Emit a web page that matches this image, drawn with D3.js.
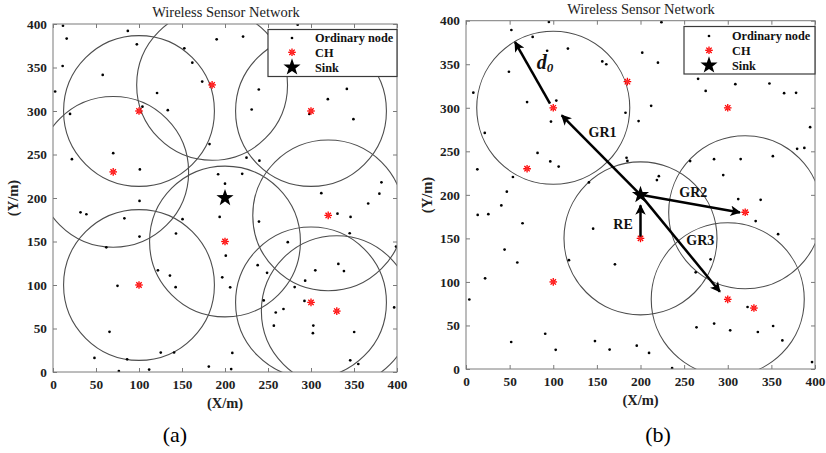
<!DOCTYPE html>
<html><head><meta charset="utf-8">
<script src="https://cdn.jsdelivr.net/npm/d3@7"></script>
<style>body{margin:0;background:#fff} svg{display:block} text{font-family:"Liberation Serif","Times New Roman",serif}</style>
</head><body><svg id="c" width="826" height="453"></svg>
<script>
// ---------- data ----------
const ticks = [0, 50, 100, 150, 200, 250, 300, 350, 400];
const titleText = "Wireless Sensor Network";
const legendLabels = ["Ordinary node", "CH", "Sink"];
const chX = [100, 185, 70, 300, 320, 200, 300, 330, 100];
const chY = [300, 330, 230, 300, 180, 150, 80, 70, 100];
const sinkXY = [200, 200];
const radiusD0 = 87.7;
const circlesA = [0, 1, 2, 3, 4, 5, 6, 7, 8];
const circlesB = [0, 5, 4, 6];

const nodesAX = [11.6,15.9,87,97.5,11.2,57.8,2.5,19.8,104,121,133.5,152.7,162,173.5,190.3,221,284.5,70,22,101,182,225,240,239.3,231,298,319.6,341.7,349.3,192,200,220,100.6,32,38.8,83,150.6,193.8,239.5,312,381.9,379.5,366.5,330.8,346,345,143,100.6,62,200.9,273,122,136,142.6,75,196.8,206,238,248.9,281,293.2,305,331.8,338.3,245,259,268,292.4,256.8,302.7,302.2,350.2,396.7,398.9,65.7,48.2,86.2,125.3,140.8,76.6,111.8,181.2,207.2,208.5,345.6,355];
const nodesAY = [398,383.3,392,376.6,351.7,341.5,322.4,296.6,305,320.7,300.9,372,355.5,333.8,382.4,385.6,399.2,251.5,244.6,232.8,262,246.4,242.9,324.7,301.7,296.6,313.6,325.4,290.6,227.3,216.5,227.8,196.6,183.5,181.3,176.6,175.7,178.2,172.9,205.5,218,205,193.7,182,178.2,159.5,159.2,155.7,143.3,133.7,149.2,116.9,110.8,97.5,99,108.8,97.3,122.8,114,97.6,105,116.9,124.2,116,82.3,68.4,72.4,81.7,53.3,53.4,44.6,46,74.2,144.2,46.2,16.2,14.6,22.3,22.4,1.1,2.8,6.2,3.4,21.9,13.4,9.2];

const nodesBX = [52,95,76.4,93,116.8,224,202,220,156.2,160.8,49.2,8.4,70,103.5,97.4,182.8,197.8,212.2,21.5,82,96.6,106.2,13,53.8,46.8,40.5,13.4,25.6,64.8,44.2,58.8,21.9,3.8,140.9,184,185,218.8,221,145.7,118,170.7,256.9,284.3,314.8,351.7,379.5,387.8,294.8,312,337.7,332,357.7,394.4,266,274.7,308.7,347.8,364.6,378.3,280.3,263.3,264.2,284.4,302.8,322.7,334.5,352,362.6,396.6,51.8,90.8,102.8,147.8,164.6,195.7,209.8,236.2];
const nodesBY = [389.3,398.5,381.4,365.5,368,398.3,363.3,351.8,353.2,350,341.4,317.3,306.5,308.3,284.2,294.3,284.7,302.2,271.1,248.2,238.4,232.5,229.3,220.5,203.6,187.8,176.9,177.8,167.4,137.2,122.3,104.1,79.8,214.3,242.6,239,217,221.5,161.2,125,120.2,238.8,241,241.1,244.4,252.9,253.9,222.7,195.2,194.3,169.9,154.8,277.7,333.2,319.3,327.1,327.9,316.8,317.2,126,111,47.9,52.2,44.4,71.2,42.5,49.4,32.8,7.9,31,40.5,22,32.1,22.3,26.8,18.5,1];

const arrowFromX = [200, 200, 200, 200, 96.3];
const arrowFromY = [200, 200, 200, 152, 304.8];
const arrowToX = [109.7, 314, 291, 200, 56.2];
const arrowToY = [291.4, 179.8, 88.7, 188, 375.5];
const arrowLabels = ["GR1", "GR2", "GR3", "RE"];
const arrowLabelX = [156.5, 260.5, 268.5, 180];
const arrowLabelY = [267, 197.7, 142, 161];
const d0LabelXY = [81, 344];

// ---------- drawing ----------
const svg = d3.select("#c");
const axisColor = "#7a7a7a";
const defs = svg.append("defs");
defs.append("marker").attr("id", "ah").attr("viewBox", "0 0 10 10")
  .attr("refX", 9).attr("refY", 5).attr("markerWidth", 4.6).attr("markerHeight", 4.2)
  .attr("markerUnits", "strokeWidth").attr("orient", "auto")
  .append("path").attr("d", "M0,0 L10,5 L0,10 L2.5,5 Z").attr("fill", "#000");

function starPath(r) {
  const pts = [];
  for (let i = 0; i < 10; i++) {
    const rr = i % 2 === 0 ? r : r * 0.4;
    const a = -Math.PI / 2 + i * Math.PI / 5;
    pts.push([rr * Math.cos(a), rr * Math.sin(a)]);
  }
  return "M" + pts.map(p => p.join(",")).join("L") + "Z";
}
function asterisk(g, cx, cy) {
  const r = 3.8;
  const s = g.append("g").attr("transform", `translate(${cx},${cy})`);
  [0, 45, 90, 135].forEach(a => {
    const t = a * Math.PI / 180;
    s.append("line").attr("x1", -r * Math.cos(t)).attr("y1", -r * Math.sin(t))
      .attr("x2", r * Math.cos(t)).attr("y2", r * Math.sin(t))
      .attr("stroke", "#ff0000").attr("stroke-width", 1.3);
  });
  s.append("circle").attr("r", 1.8).attr("fill", "#ff2a2a");
}

function panel(cfg) {
  const x = d3.scaleLinear().domain([0, 400]).range([cfg.x0, cfg.x1]);
  const y = d3.scaleLinear().domain([0, 400]).range([cfg.y0, cfg.y1]);
  const g = svg.append("g");
  const clipId = "clip" + cfg.id;
  defs.append("clipPath").attr("id", clipId).append("rect")
    .attr("x", cfg.x0).attr("y", cfg.y1).attr("width", cfg.x1 - cfg.x0).attr("height", cfg.y0 - cfg.y1);

  const fmt = d => d;
  const styleAxis = sel => {
    sel.selectAll(".domain").remove();
    sel.selectAll(".tick line").attr("stroke", axisColor);
    sel.selectAll(".tick text").attr("fill", "#1e1e1e").attr("font-weight", "bold")
      .attr("font-size", 13.3).attr("font-family", '"Liberation Serif","Times New Roman",serif');
  };
  g.append("g").attr("transform", `translate(0,${cfg.y0})`)
    .call(d3.axisBottom(x).tickValues(ticks).tickFormat(fmt).tickSize(-4).tickPadding(8)).call(styleAxis);
  g.append("g").attr("transform", `translate(${cfg.x0},0)`)
    .call(d3.axisLeft(y).tickValues(ticks).tickFormat(fmt).tickSize(-4).tickPadding(6)).call(styleAxis);
  g.append("g").attr("transform", `translate(0,${cfg.y1})`)
    .call(d3.axisTop(x).tickValues(ticks).tickFormat("").tickSize(-4)).call(styleAxis);
  g.append("g").attr("transform", `translate(${cfg.x1},0)`)
    .call(d3.axisRight(y).tickValues(ticks).tickFormat("").tickSize(-4)).call(styleAxis);

  const plot = g.append("g").attr("clip-path", `url(#${clipId})`);
  plot.selectAll("circle.rng").data(cfg.circles).join("circle").attr("class", "rng")
    .attr("cx", i => x(chX[i])).attr("cy", i => y(chY[i]))
    .attr("r", x(radiusD0) - x(0)).attr("fill", "none").attr("stroke", "#4d4d4d").attr("stroke-width", 1.1);
  plot.selectAll("circle.nd").data(cfg.nx.map((v, i) => [v, cfg.ny[i]])).join("circle").attr("class", "nd")
    .attr("cx", d => x(d[0])).attr("cy", d => y(d[1])).attr("r", 1.35).attr("fill", "#000");
  chX.forEach((v, i) => asterisk(plot, x(v), y(chY[i])));
  plot.append("path").attr("d", starPath(cfg.starR)).attr("transform", `translate(${x(sinkXY[0])},${y(sinkXY[1])})`)
    .attr("fill", "#000");

  if (cfg.arrows) {
    arrowFromX.forEach((v, i) => {
      g.append("line").attr("x1", x(v)).attr("y1", y(arrowFromY[i]))
        .attr("x2", x(arrowToX[i])).attr("y2", y(arrowToY[i]))
        .attr("stroke", "#000").attr("stroke-width", 2.5).attr("marker-end", "url(#ah)");
    });
    arrowLabels.forEach((t, i) => {
      g.append("text").attr("x", x(arrowLabelX[i])).attr("y", y(arrowLabelY[i]))
        .attr("text-anchor", "middle").attr("font-weight", "bold").attr("font-size", 14).attr("fill", "#111").text(t);
    });
    const dt = g.append("text").attr("x", x(d0LabelXY[0])).attr("y", y(d0LabelXY[1]))
      .attr("font-weight", "bold").attr("font-style", "italic").attr("font-size", 20).attr("fill", "#111");
    dt.append("tspan").text("d");
    dt.append("tspan").attr("font-size", 13).attr("dy", 3).text("0");
  }

  g.append("rect").attr("x", cfg.x0).attr("y", cfg.y1).attr("width", cfg.x1 - cfg.x0).attr("height", cfg.y0 - cfg.y1)
    .attr("fill", "none").attr("stroke", axisColor).attr("stroke-width", 1);

  const L = cfg.legend;
  const lg = g.append("g");
  lg.append("rect").attr("x", L.x).attr("y", L.y).attr("width", L.w).attr("height", L.h)
    .attr("fill", "#fff").attr("stroke", "#3a3a3a").attr("stroke-width", 1.2);
  L.rows.forEach((ry, i) => {
    if (i === 0) lg.append("circle").attr("cx", L.mx).attr("cy", ry).attr("r", 1.35).attr("fill", "#000");
    if (i === 1) asterisk(lg, L.mx, ry);
    if (i === 2) lg.append("path").attr("d", starPath(cfg.starR)).attr("transform", `translate(${L.mx},${ry})`).attr("fill", "#000");
    lg.append("text").attr("x", L.tx).attr("y", ry + 4.3).attr("font-weight", "bold").attr("font-size", 12.3)
      .attr("fill", "#111").text(legendLabels[i]);
  });

  g.append("text").attr("x", cfg.titleX).attr("y", cfg.titleY).attr("text-anchor", "middle")
    .attr("font-size", 14.5).attr("fill", "#222").text(titleText);
  g.append("text").attr("x", (cfg.x0 + cfg.x1) / 2).attr("y", cfg.y0 + 36).attr("text-anchor", "middle")
    .attr("font-size", 14.5).attr("font-weight", "bold").attr("fill", "#222").text("(X/m)");
  g.append("text").attr("transform", `translate(${cfg.ylabX},${cfg.ylabY}) rotate(-90)`).attr("text-anchor", "middle")
    .attr("font-size", 14.5).attr("font-weight", "bold").attr("fill", "#222").text("(Y/m)");
  g.append("text").attr("x", cfg.capX).attr("y", 442).attr("text-anchor", "middle")
    .attr("font-size", 22).attr("fill", "#000").text(cfg.cap);
}

panel({id: "a", x0: 53, x1: 397, y0: 372, y1: 24, circles: circlesA, nx: nodesAX, ny: nodesAY, starR: 9,
  arrows: false, titleX: 226, titleY: 17, ylabX: 18, ylabY: 198, capX: 175, cap: "(a)",
  legend: {x: 268, y: 29.5, w: 129, h: 47, mx: 292, tx: 315, rows: [38, 52.3, 67.3]}});
panel({id: "b", x0: 466, x1: 815, y0: 369, y1: 20.7, circles: circlesB, nx: nodesBX, ny: nodesBY, starR: 9,
  arrows: true, titleX: 641, titleY: 14, ylabX: 432, ylabY: 195, capX: 658, cap: "(b)",
  legend: {x: 684, y: 26.5, w: 131, h: 47.5, mx: 709, tx: 732, rows: [36, 50.3, 65.3]}});
</script></body></html>
